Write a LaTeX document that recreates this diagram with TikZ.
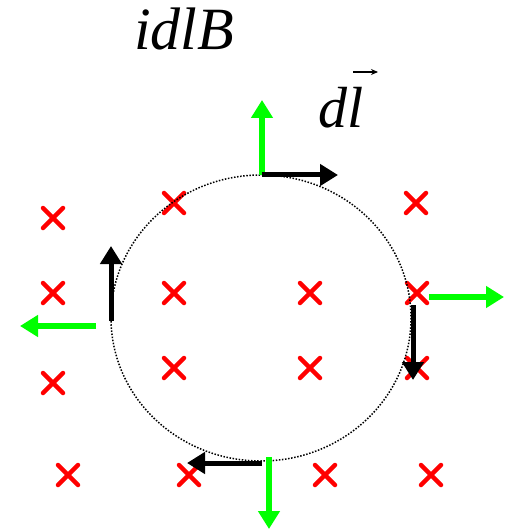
\documentclass[tikz,border=0pt]{standalone}
\usepackage{fontspec}
\setmainfont{Liberation Serif}
\usetikzlibrary{arrows.meta}

\definecolor{fieldgreen}{RGB}{0,255,0}
\tikzset{
  bvec/.style={line width=5pt,-{Triangle[length=18pt,width=21pt]}},
  gvec/.style={line width=5.5pt,fieldgreen,-{Triangle[length=18pt,width=21pt]}},
  cross/.pic={\draw[red,line width=4.5pt,line cap=round] (-10,-10) -- (10,10) (-10,10) -- (10,-10);}
}

\begin{document}
\begin{tikzpicture}[x=1pt,y=-1pt]
  \useasboundingbox (0,0) rectangle (504,529);
  % field into the page
  \foreach \x/\y in {53/218,174/203,416/203,
                     53/293,174/293,310/293,417/293,
                     53/383,174/368,310/368,417/368,
                     68/475,189/475,325/475,431/475}
    \pic at (\x,\y) {cross};
  % current loop
  \draw[line width=1.5pt,dash pattern=on 1.5pt off 1.6pt] (261,318) ellipse (150 and 143);
  % dl (black) and force (green)
  \draw[gvec] (262,175) -- (262,100);
  \draw[bvec] (262,175) -- (338,175);
  \draw[bvec] (111,321) -- (111,246);
  \draw[gvec] (96,326) -- (20,326);
  \draw[bvec] (413,305) -- (413,380);
  \draw[gvec] (429,297) -- (504,297);
  \draw[bvec] (262,463) -- (187,463);
  \draw[gvec] (269,457) -- (269,529);
  \node[anchor=base west,inner sep=0pt,font=\fontsize{60}{60}\selectfont\itshape] (force) at (134,50) {idlB};
  \node[anchor=base west,inner sep=0pt,font=\fontsize{58}{58}\selectfont\itshape] (dl) at (318,128) {dl};
  \draw[line width=1.3pt,-{Stealth[length=7pt,width=6pt]}] (353,72) -- (378,72);
\end{tikzpicture}
\end{document}
